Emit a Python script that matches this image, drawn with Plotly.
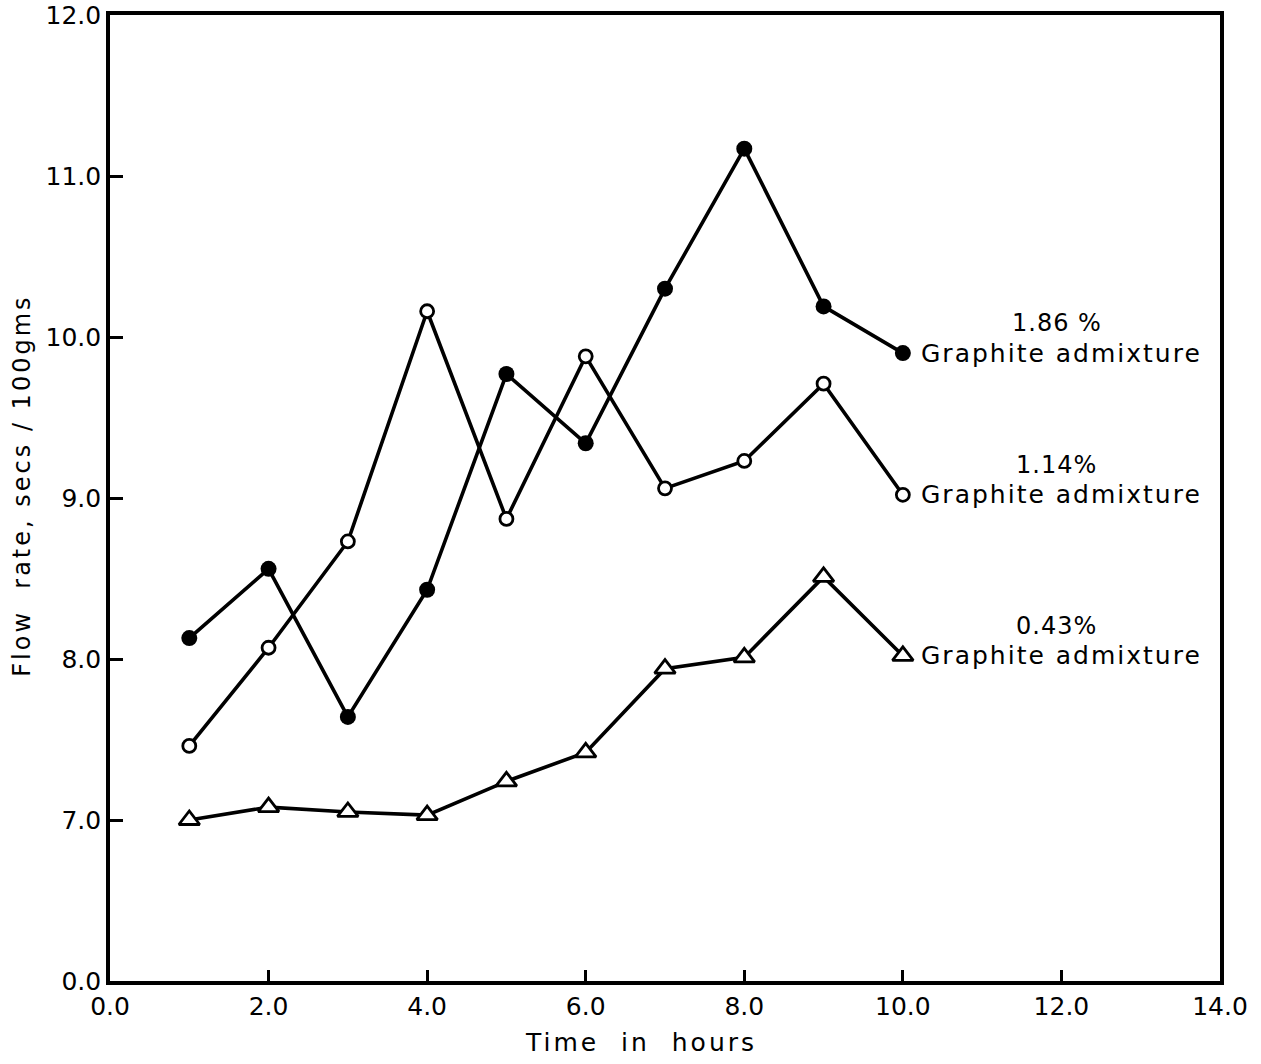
import plotly.graph_objects as go

# ---- data ----
hours = [1, 2, 3, 4, 5, 6, 7, 8, 9, 10]
graphite_186 = [8.13, 8.56, 7.64, 8.43, 9.77, 9.34, 10.30, 11.17, 10.19, 9.90]
graphite_114 = [7.46, 8.07, 8.73, 10.16, 8.87, 9.88, 9.06, 9.23, 9.71, 9.02]
graphite_043 = [7.00, 7.08, 7.05, 7.03, 7.24, 7.42, 7.94, 8.01, 8.51, 8.02]

series_pct = ["1.86 %", "1.14%", "0.43%"]
series_text = "Graphite admixture"

x_tickvals = [0, 2, 4, 6, 8, 10, 12, 14]
x_ticktext = ["0.0", "2.0", "4.0", "6.0", "8.0", "10.0", "12.0", "14.0"]
# broken y axis: lowest label reads 0.0
y_tickvals = [6, 7, 8, 9, 10, 11, 12]
y_ticktext = ["0.0", "7.0", "8.0", "9.0", "10.0", "11.0", "12.0"]

FONT = "DejaVu Sans"
LW = 3.6


def spaced(txt, px):
    return f'<span style="letter-spacing:{px}px">{txt}</span>'


fig = go.Figure()

fig.add_trace(go.Scatter(
    x=hours, y=graphite_186, mode="lines+markers",
    line=dict(color="black", width=LW),
    marker=dict(symbol="circle", size=16, color="black"),
    showlegend=False))

fig.add_trace(go.Scatter(
    x=hours, y=graphite_114, mode="lines+markers",
    line=dict(color="black", width=LW),
    marker=dict(symbol="circle", size=13, color="white",
                line=dict(color="black", width=2.8)),
    showlegend=False))

fig.add_trace(go.Scatter(
    x=hours, y=graphite_043, mode="lines+markers",
    line=dict(color="black", width=LW),
    marker=dict(symbol="triangle-up", size=18, color="white",
                line=dict(color="black", width=2.8)),
    showlegend=False))

annotations = []
last_vals = [graphite_186[-1], graphite_114[-1], graphite_043[-1]]
for pct, yv in zip(series_pct, last_vals):
    annotations.append(dict(
        x=hours[-1], y=yv, xref="x", yref="y", xanchor="left", yanchor="middle",
        xshift=16, yshift=0, text=spaced(series_text, 2), showarrow=False,
        font=dict(family=FONT, size=25, color="black")))
    annotations.append(dict(
        x=hours[-1], y=yv, xref="x", yref="y", xanchor="center", yanchor="middle",
        xshift=154, yshift=30, text=spaced(pct, 1), showarrow=False,
        font=dict(family=FONT, size=24, color="black")))

annotations.append(dict(
    x=0.478, y=-0.064, xref="paper", yref="paper", xanchor="center", yanchor="middle",
    text=spaced("Time\u00a0 in\u00a0 hours", 3), showarrow=False,
    font=dict(family=FONT, size=25, color="black")))
annotations.append(dict(
    x=-0.079, y=0.513, xref="paper", yref="paper", xanchor="center", yanchor="middle",
    text=spaced("Flow\u00a0 rate,\u00a0secs\u00a0/\u00a0100gms", 3), textangle=-90,
    showarrow=False, font=dict(family=FONT, size=24, color="black")))

fig.update_layout(
    width=1261, height=1064,
    margin=dict(l=110, r=41, t=15, b=83),
    paper_bgcolor="white", plot_bgcolor="white",
    font=dict(family=FONT, size=24, color="black"),
    annotations=annotations,
)

fig.update_xaxes(
    range=[0, 14], tickvals=x_tickvals, ticktext=x_ticktext,
    showgrid=False, zeroline=False, automargin=False,
    showline=True, linecolor="black", linewidth=LW, mirror=True,
    ticks="inside", ticklen=11, tickwidth=2.5, tickcolor="black",
    tickfont=dict(family=FONT, size=25, color="black"),
)
fig.update_yaxes(
    range=[6, 12], tickvals=y_tickvals, ticktext=y_ticktext,
    showgrid=False, zeroline=False, automargin=False,
    showline=True, linecolor="black", linewidth=LW, mirror=True,
    ticks="inside", ticklen=13, tickwidth=2.5, tickcolor="black",
    tickfont=dict(family=FONT, size=25, color="black"),
)

fig.write_html("out.html")
